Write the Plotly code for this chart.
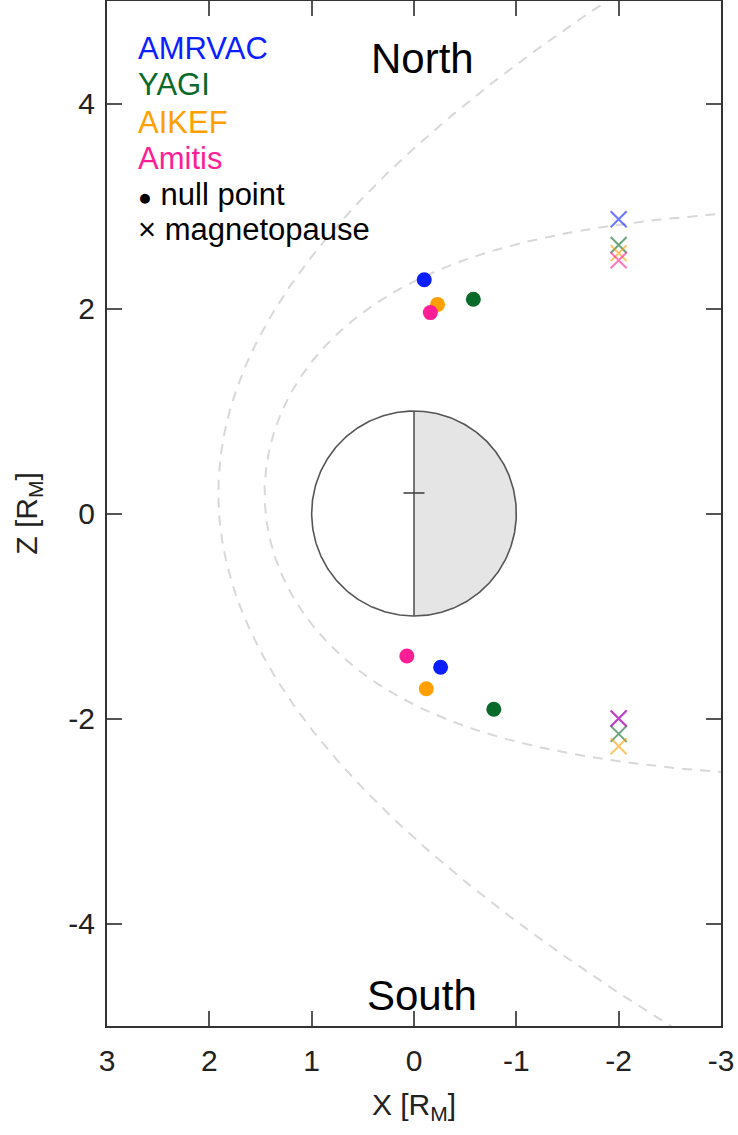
import numpy as np
import plotly.graph_objects as go

# ---- data ----
models = ["AMRVAC", "YAGI", "AIKEF", "Amitis"]
colors = ["#0a1eff", "#0a6a2a", "#ffa000", "#ff1e96"]

# null points (X, Z) north and south
null_north_x = [-0.10, -0.58, -0.23, -0.16]
null_north_z = [2.28, 2.09, 2.04, 1.96]
null_south_x = [-0.26, -0.78, -0.12, 0.07]
null_south_z = [-1.50, -1.91, -1.71, -1.39]

# magnetopause crossings at X = -2
mp_x = [-2.0, -2.0, -2.0, -2.0]
mp_north_z = [2.87, 2.62, 2.54, 2.47]
mp_south_z = [-2.00, -2.15, -2.27, -2.00]

# model boundaries (dipole offset 0.2 R_M)
dipole_offset = 0.2
mp_R0, mp_alpha = 1.46, 0.5                   # Shue-type magnetopause
bs_x0, bs_eps, bs_L = 0.5, 1.04, 2.88         # conic bow shock

xticks = [3, 2, 1, 0, -1, -2, -3]
yticks = [-4, -2, 0, 2, 4]

FONT = "Liberation Sans, Arial, Helvetica, sans-serif"

fig = go.Figure()

# magnetopause model
th = np.linspace(-np.pi * 0.97, np.pi * 0.97, 800)
r_mp = mp_R0 * (2.0 / (1.0 + np.cos(th))) ** mp_alpha
fig.add_trace(go.Scatter(x=r_mp * np.cos(th), y=r_mp * np.sin(th) + dipole_offset,
                         mode="lines", line=dict(color="#d8d8d8", width=2, dash="10px,8px"),
                         hoverinfo="skip", showlegend=False))
# bow shock model
thb = np.linspace(-np.arccos(-1 / bs_eps) * 0.97, np.arccos(-1 / bs_eps) * 0.97, 800)
r_bs = bs_L / (1.0 + bs_eps * np.cos(thb))
fig.add_trace(go.Scatter(x=bs_x0 + r_bs * np.cos(thb), y=r_bs * np.sin(thb) + dipole_offset,
                         mode="lines", line=dict(color="#d8d8d8", width=2, dash="10px,8px"),
                         hoverinfo="skip", showlegend=False))

# planet: nightside shaded, dayside white
ph = np.linspace(-np.pi / 2, np.pi / 2, 200)
fig.add_trace(go.Scatter(x=np.concatenate([-np.cos(ph), [0, 0]]),
                         y=np.concatenate([np.sin(ph), [1, -1]]),
                         fill="toself", fillcolor="#e5e5e5", mode="none",
                         hoverinfo="skip", showlegend=False))
ph2 = np.linspace(0, 2 * np.pi, 400)
fig.add_trace(go.Scatter(x=np.cos(ph2), y=np.sin(ph2), mode="lines",
                         line=dict(color="#555555", width=1.6),
                         hoverinfo="skip", showlegend=False))
fig.add_trace(go.Scatter(x=[0, 0], y=[-1, 1], mode="lines",
                         line=dict(color="#555555", width=1.6),
                         hoverinfo="skip", showlegend=False))
fig.add_trace(go.Scatter(x=[0], y=[dipole_offset], mode="markers",
                         marker=dict(symbol="line-ew", size=15, line=dict(color="#444444", width=1.6)),
                         hoverinfo="skip", showlegend=False))

# magnetopause crossings
for i, m in enumerate(models):
    fig.add_trace(go.Scatter(x=[mp_x[i], mp_x[i]], y=[mp_north_z[i], mp_south_z[i]],
                             mode="markers", name=m,
                             marker=dict(symbol="x-thin", size=16, opacity=0.6,
                                         line=dict(color=colors[i], width=2.0)),
                             showlegend=False))
# null points
for i, m in enumerate(models):
    fig.add_trace(go.Scatter(x=[null_north_x[i], null_south_x[i]],
                             y=[null_north_z[i], null_south_z[i]],
                             mode="markers", name=m,
                             marker=dict(symbol="circle", size=15, color=colors[i]),
                             showlegend=False))

# legend as text
L, T, H = 107, 1, 1025
W = 614
def py(p):
    return 1 - (p - T) / H
legend_rows = models + ["<span style='font-size:23px'>●</span> null point", "× magnetopause"]
legend_cols = colors + ["#000000", "#000000"]
legend_y = [48, 85, 122, 158, 195, 230]
for txt, c, yy in zip(legend_rows, legend_cols, legend_y):
    fig.add_annotation(x=(136 - L) / W, y=py(yy), xref="paper", yref="paper",
                       text=txt, showarrow=False, xanchor="left", yanchor="middle",
                       font=dict(family=FONT, size=31, color=c))

fig.add_annotation(x=(422 - L) / W, y=py(58), xref="paper", yref="paper", text="North",
                   showarrow=False, xanchor="center", yanchor="middle",
                   font=dict(family=FONT, size=42, color="#000000"))
fig.add_annotation(x=(422 - L) / W, y=py(995), xref="paper", yref="paper", text="South",
                   showarrow=False, xanchor="center", yanchor="middle",
                   font=dict(family=FONT, size=42, color="#000000"))

axis_common = dict(showgrid=False, zeroline=False, showline=True, linecolor="#333333",
                   linewidth=2, mirror="ticks", ticks="inside", ticklen=15,
                   tickcolor="#555555", tickwidth=2, automargin=False,
                   tickfont=dict(family=FONT, size=30, color="#222222"))

fig.update_layout(
    width=738, height=1135,
    margin=dict(l=107, r=17, t=1, b=109),
    paper_bgcolor="white", plot_bgcolor="white",
    xaxis=dict(range=[3, -3], tickvals=xticks, ticktext=[str(v) for v in xticks],
               title=dict(text="X [R<sub>M</sub>]", font=dict(family=FONT, size=30, color="#222222"),
                          standoff=18),
               ticklabelstandoff=7, **axis_common),
    yaxis=dict(range=[-5, 5], tickvals=yticks, ticktext=[str(v) for v in yticks],
               title=dict(text="Z [R<sub>M</sub>]", font=dict(family=FONT, size=30, color="#222222"),
                          standoff=22),
               ticklabelstandoff=4, **axis_common),
    showlegend=False,
)

fig.write_html("out.html", config={"displayModeBar": False},
               post_script="document.body.style.margin='0px';")
